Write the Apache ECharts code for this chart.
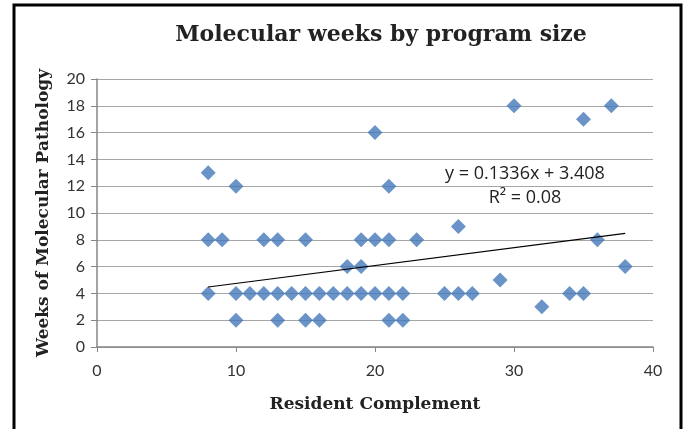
<!DOCTYPE html>
<html><head><meta charset="utf-8">
<script src="https://cdn.jsdelivr.net/npm/echarts@6/dist/echarts.min.js"></script>
<style>html,body{margin:0;padding:0;background:#fff}#c{width:683px;height:429px}</style>
</head><body><div id="c"></div>
<script>
// Resident complement (x) and weeks of molecular pathology (y)
const residents = [8,8,8,9,10,10,10,11,12,12,13,13,13,14,15,15,15,16,16,17,18,18,19,19,19,20,20,20,21,21,21,21,22,22,23,25,26,26,27,29,30,32,34,35,35,36,37,38];
const weeks     = [13,8,4,8,12,4,2,4,8,4,8,4,2,4,8,4,2,4,2,4,6,4,8,6,4,16,8,4,12,8,4,2,4,2,8,4,9,4,4,5,18,3,4,17,4,8,18,6];
const trendSlope = 0.1336;
const trendIntercept = 3.408;
const trendRange = [8, 38];
const yTicks = [0,2,4,6,8,10,12,14,16,18,20];
const xTicks = [0,10,20,30,40];

const points = residents.map((x,i)=>[x, weeks[i]]);
const trend = trendRange.map(x=>[x, trendSlope*x + trendIntercept]);

const chart = echarts.init(document.getElementById('c'));
const gridColor = '#a6a6a6';
const axisColor = '#868686';
const tickFont = {fontFamily:'Lato', fontSize:16, color:'#333'};
const nameFont = {fontFamily:'DejaVu Serif', fontWeight:'bold', fontSize:17, color:'#222'};
chart.setOption({
  animation:false,
  title:{text:'Molecular weeks by program size', left:376, top:19, textAlign:'center',
    textStyle:{fontFamily:'DejaVu Serif', fontWeight:'bold', fontSize:22, color:'#222'}},
  grid:{left:97, right:30, top:79, bottom:82},
  xAxis:{type:'value', min:xTicks[0], max:xTicks[xTicks.length-1], interval:10,
    name:'Resident Complement', nameLocation:'middle', nameGap:49,
    nameTextStyle:nameFont,
    axisLine:{lineStyle:{color:axisColor, width:1.5}},
    axisTick:{show:true, length:5, lineStyle:{color:axisColor}},
    axisLabel:Object.assign({margin:16}, tickFont),
    splitLine:{show:false}},
  yAxis:{type:'value', min:yTicks[0], max:yTicks[yTicks.length-1], interval:2,
    name:'Weeks of Molecular Pathology', nameLocation:'middle', nameGap:45,
    nameTextStyle:nameFont,
    axisLine:{show:true, lineStyle:{color:axisColor, width:1.5}},
    axisTick:{show:true, length:6, lineStyle:{color:axisColor}},
    axisLabel:Object.assign({margin:12}, tickFont),
    splitLine:{show:true, lineStyle:{color:gridColor, width:1.2}}},
  series:[
    {type:'scatter', data:points, symbol:'diamond', symbolSize:15,
      itemStyle:{color:'#4579b9'}, z:3},
    {type:'line', data:trend, showSymbol:false, symbol:'none',
      lineStyle:{color:'#000', width:1.2}, z:4, silent:true}
  ],
  graphic:[
    {type:'rect', shape:{x:14, y:5, width:667, height:440},
      style:{fill:'none', stroke:'#000', lineWidth:3}},
    {type:'text', x:525, y:174, style:{text:'y = 0.1336x + 3.408', textAlign:'center', textVerticalAlign:'middle',
      font:'18px "Open Sans"', fill:'#222'}},
    {type:'text', x:525, y:198, style:{text:'R² = 0.08', textAlign:'center', textVerticalAlign:'middle',
      font:'18px "Open Sans"', fill:'#222'}}
  ]
});
</script></body></html>
